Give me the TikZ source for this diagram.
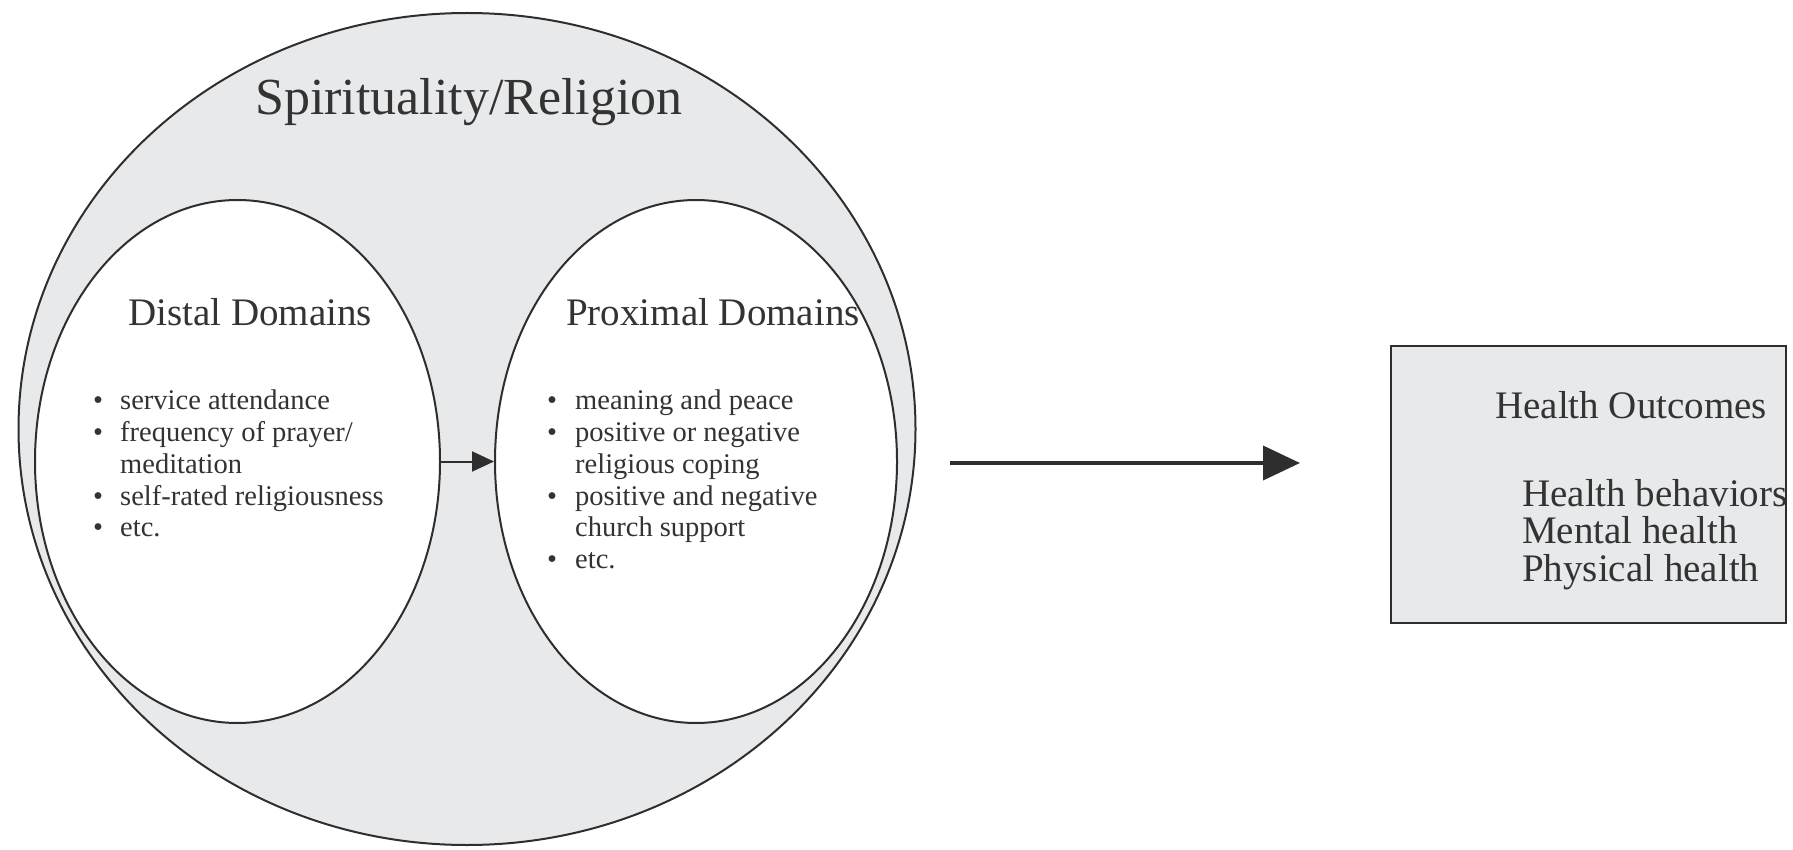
\documentclass[tikz,border=0pt]{standalone}
\usepackage{fontspec}
\setmainfont{Liberation Serif}
\usetikzlibrary{shapes.geometric,arrows.meta}
\definecolor{fillgray}{HTML}{E8E9EB}
\definecolor{linegray}{HTML}{2E2E2E}
\definecolor{textgray}{HTML}{333333}
\begin{document}
\begin{tikzpicture}[x=1pt,y=-1pt,
  outline/.style={draw=linegray, line width=2pt},
  oval/.style={ellipse, outline, inner sep=0pt},
  bigtitle/.style={font=\fontsize{52}{60}\selectfont, text=textgray, anchor=base, inner sep=0pt},
  domtitle/.style={font=\fontsize{39}{45}\selectfont, text=textgray, anchor=base west, inner sep=0pt},
  bul/.style={font=\fontsize{28.5}{32}\selectfont, text=textgray, anchor=base west, inner sep=0pt},
  outtext/.style={font=\fontsize{39}{45}\selectfont, text=textgray, anchor=base west, inner sep=0pt},
  conn/.style={draw=linegray, line width=2pt},
]
\useasboundingbox (0,0) rectangle (1793,850);
% outer ellipse
\node[oval, fill=fillgray, minimum width=897pt, minimum height=832pt] (spirit) at (467,429) {};
\node[oval, fill=white, minimum width=405pt, minimum height=523pt] (distal) at (237.5,461.5) {};
\node[oval, fill=white, minimum width=402pt, minimum height=523pt] (proximal) at (696,461.5) {};
\node[bigtitle] (title) at (469,115) {Spirituality/Religion};
\node[domtitle] (dtitle) at (128,325) {Distal Domains};
\node[domtitle] (ptitle) at (566,325) {Proximal Domains};
% distal list
\node[bul] (db1) at (93,409.5) {\textbullet};
\node[bul] (dl1) at (120,409.5) {service attendance};
\node[bul] (db2) at (93,441.5) {\textbullet};
\node[bul] (dl2) at (120,441.5) {frequency of prayer/};
\node[bul] (dl3) at (120,473.5) {meditation};
\node[bul] (db4) at (93,505) {\textbullet};
\node[bul] (dl4) at (120,505) {self-rated religiousness};
\node[bul] (db5) at (93,536.5) {\textbullet};
\node[bul] (dl5) at (120,536.5) {etc.};
% proximal list
\node[bul] (pb1) at (547,409.5) {\textbullet};
\node[bul] (pl1) at (575,409.5) {meaning and peace};
\node[bul] (pb2) at (547,441.5) {\textbullet};
\node[bul] (pl2) at (575,441.5) {positive or negative};
\node[bul] (pl3) at (575,473.5) {religious coping};
\node[bul] (pb4) at (547,505) {\textbullet};
\node[bul] (pl4) at (575,505) {positive and negative};
\node[bul] (pl5) at (575,536.5) {church support};
\node[bul] (pb6) at (547,568.5) {\textbullet};
\node[bul] (pl6) at (575,568.5) {etc.};
% small arrow
\draw[conn, -{Triangle[length=22pt,width=20pt]}] (distal.east) -- (proximal.west);
% health box
\node[draw=linegray, line width=2pt, fill=fillgray, minimum width=395pt, minimum height=277pt, anchor=north west, inner sep=0pt] (health) at (1390,345) {};
\node[outtext] (ho) at (1495,418) {Health Outcomes};
\node[outtext] (hb) at (1522,506) {Health behaviors};
\node[outtext] (mh) at (1522,543.5) {Mental health};
\node[outtext] (ph) at (1522,581) {Physical health};
% big arrow
\coordinate (bstart) at (950,463);
\coordinate (bend) at (1300,463);
\draw[draw=linegray, line width=4pt, -{Triangle[length=37pt,width=34pt]}] (bstart) -- (bend);
\end{tikzpicture}
\end{document}
